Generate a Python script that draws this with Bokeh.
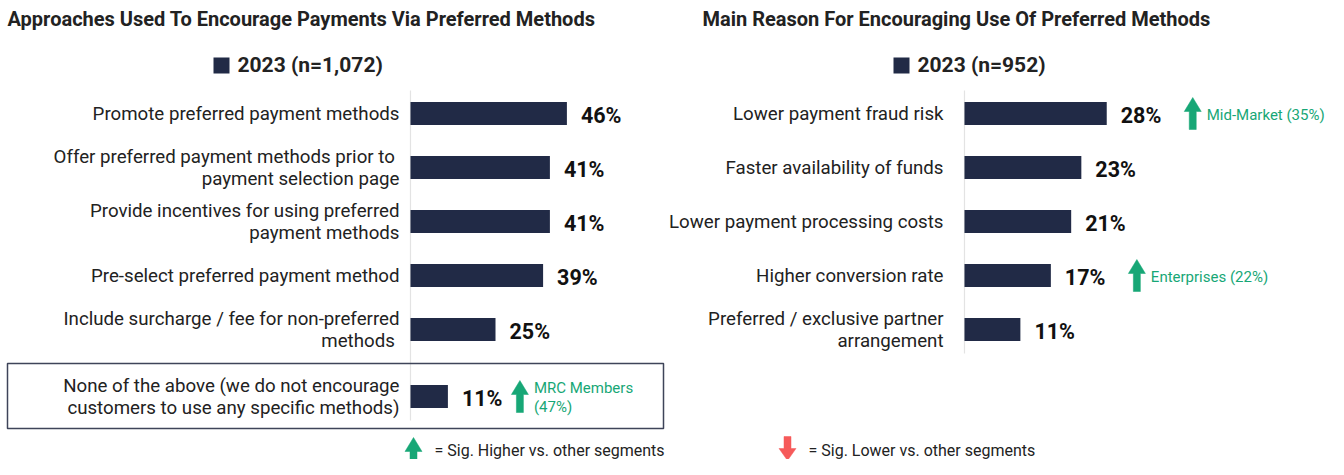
from bokeh.plotting import figure
from bokeh.layouts import row
from bokeh.models import Range1d
from bokeh.core.properties import value
from bokeh.embed import file_html
from bokeh.resources import INLINE

# ---------------- data ----------------
left_title = "Approaches Used To Encourage Payments Via Preferred Methods"
left_legend = "2023 (n=1,072)"
left_categories = [
    "Promote preferred payment methods",
    "Offer preferred payment methods prior to \npayment selection page",
    "Provide incentives for using preferred\npayment methods",
    "Pre-select preferred payment method",
    "Include surcharge / fee for non-preferred\nmethods ",
    "None of the above (we do not encourage\ncustomers to use any specific methods)",
]
left_values = [46, 41, 41, 39, 25, 11]
left_note_idx = [5]
left_note_text = ["MRC Members\n(47%)"]

right_title = "Main Reason For Encouraging Use Of Preferred Methods"
right_legend = "2023 (n=952)"
right_categories = [
    "Lower payment fraud risk",
    "Faster availability of funds",
    "Lower payment processing costs",
    "Higher conversion rate",
    "Preferred / exclusive partner\narrangement",
]
right_values = [28, 23, 21, 17, 11]
right_note_idx = [0, 3]
right_note_text = ["Mid-Market (35%)", "Enterprises (22%)"]

footer_higher = "= Sig. Higher vs. other segments"
footer_lower = "= Sig. Lower vs. other segments"

# ---------------- style ----------------
WL, WR, H = 668, 660, 459
FONT = value("Roboto")
NAVY = "#212a46"
GREEN = "#17a776"
RED = "#f65a5a"
TXT = "#222222"
ROW0, STEP, BAR_H = 113, 54, 23


def arrow(p, cx, top, ppp, color, up=True, total=31, hh=14):
    hw, sw = 8.5, 3.5
    hwx, swx = hw / ppp, sw / ppp
    if up:
        xs = [cx, cx + hwx, cx + swx, cx + swx, cx - swx, cx - swx, cx - hwx]
        ys = [top, top + hh, top + hh, top + total, top + total, top + hh, top + hh]
    else:
        bot = top + total
        xs = [cx, cx + hwx, cx + swx, cx + swx, cx - swx, cx - swx, cx - hwx]
        ys = [bot, bot - hh, bot - hh, top, top, bot - hh, bot - hh]
    p.patch(xs, ys, fill_color=color, line_color=color, line_width=0.5)


def panel(W, left_px, axis_px, ppp, title, title_px, legend, legend_px, cats, vals,
          note_idx, note_text, note_off, label_gap, boxed_last=False):
    # X converts a page pixel position into this panel's data units (percent)
    X = lambda px: (px - axis_px) / ppp
    p = figure(width=W, height=H, x_range=Range1d(X(left_px), X(left_px + W)),
               y_range=Range1d(H, 0), output_backend="svg", toolbar_location=None,
               min_border=0)
    p.axis.visible = False
    p.grid.visible = False
    p.outline_line_color = None

    ys = [ROW0 + i * STEP for i in range(len(cats))]
    if boxed_last:
        ys[-1] += 13
    # title
    p.text(x=[X(title_px)], y=[18], text=[title], text_font=FONT, text_font_size="20px",
           text_font_style="bold", text_color=TXT, text_baseline="middle", text_align="left")
    # legend
    p.rect(x=[X(legend_px + 8)], y=[65], width=16, height=16, width_units="screen",
           height_units="screen", fill_color=NAVY, line_color=None)
    p.text(x=[X(legend_px + 24)], y=[64], text=[legend], text_font=FONT, text_font_size="21px",
           text_font_style="bold", text_color=TXT, text_baseline="middle", text_align="left")
    # axis line
    p.segment(x0=[0], y0=[90], x1=[0], y1=[ys[-1] + 24], line_color="#e3e3e3", line_width=1.2)
    # box round the last row
    if boxed_last:
        p.quad(left=[X(7)], right=[X(663)], top=[ys[-1] - 33], bottom=[ys[-1] + 32],
               fill_color=None, line_color="#3e4459", line_width=1.5)
    # bars
    p.hbar(y=ys, left=0, right=vals, height=BAR_H, fill_color=NAVY, line_color=None)
    # category labels
    p.text(x=[-label_gap / ppp] * len(cats), y=ys, text=cats, text_font=FONT,
           text_font_size="18.7px", text_color=TXT, text_baseline="middle",
           text_align="right", text_line_height=1.0)
    # value labels
    p.text(x=[v + 14 / ppp for v in vals], y=[y + 2 for y in ys], text=[f"{v}%" for v in vals],
           text_font=FONT, text_font_size="21.5px", text_font_style="bold", text_color="#111111",
           text_baseline="middle", text_align="left")
    # significance notes
    for i, t in zip(note_idx, note_text):
        cx = vals[i] + note_off / ppp
        arrow(p, cx, ys[i] - 16, ppp, GREEN, total=32)
        p.text(x=[cx + 14 / ppp], y=[ys[i] + 1], text=[t], text_font=FONT, text_font_size="15px",
               text_color=GREEN, text_baseline="middle", text_align="left", text_line_height=1.03)
    return p, X


left, XL = panel(WL, 0, 410, 3.4, left_title, 7, left_legend, 213, left_categories,
                 left_values, left_note_idx, left_note_text, 72, 11, boxed_last=True)
right, XR = panel(WR, WL, 964, 5.08, right_title, 702, right_legend, 893, right_categories,
                  right_values, right_note_idx, right_note_text, 86, 21)

# footer legend
arrow(left, XL(413), 437, 3.4, GREEN, up=True, total=24)
left.text(x=[XL(434)], y=[450], text=[footer_higher], text_font=FONT, text_font_size="16px",
          text_color=TXT, text_baseline="middle", text_align="left")
arrow(right, XR(787), 436, 5.08, RED, up=False, total=24, hh=12)
right.text(x=[XR(808)], y=[450], text=[footer_lower], text_font=FONT,
           text_font_size="16px", text_color=TXT, text_baseline="middle", text_align="left")

layout = row(left, right)
open("out.html", "w").write(file_html(layout, INLINE))
